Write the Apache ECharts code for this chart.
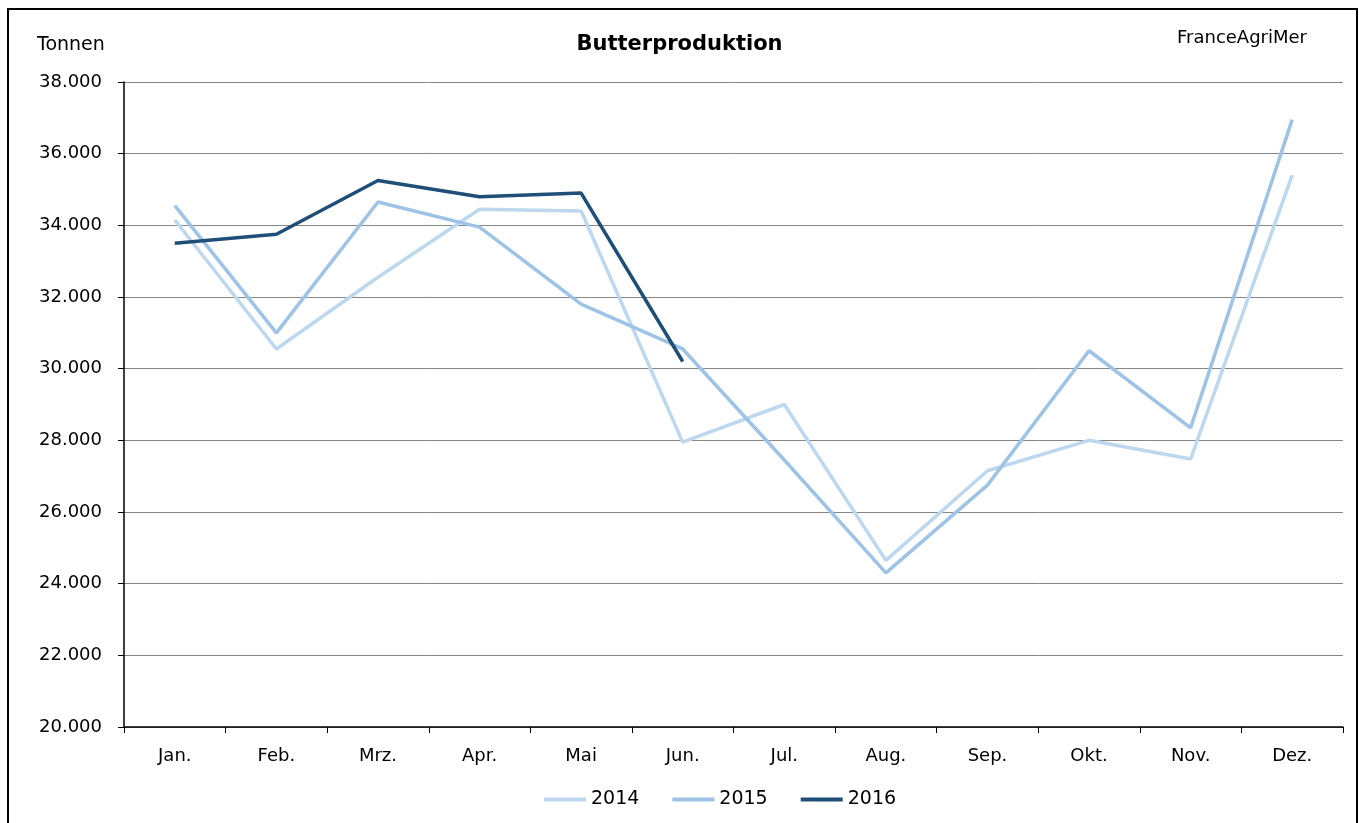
<!DOCTYPE html>
<html>
<head>
<meta charset="utf-8">
<script src="https://cdn.jsdelivr.net/npm/echarts@6/dist/echarts.min.js"></script>
<style>
  html, body { margin: 0; padding: 0; background: #fff; }
  #chart { width: 1359px; height: 823px; }
</style>
</head>
<body>
<div id="chart"></div>
<script>
const months = ['Jan.', 'Feb.', 'Mrz.', 'Apr.', 'Mai', 'Jun.', 'Jul.', 'Aug.', 'Sep.', 'Okt.', 'Nov.', 'Dez.']
const years = ['2014', '2015', '2016']
const prod2014 = [34150, 30550, 32550, 34450, 34400, 27950, 29000, 24650, 27150, 28000, 27480, 35400]
const prod2015 = [34550, 31000, 34650, 33950, 31800, 30550, 27450, 24300, 26750, 30500, 28350, 36950]
const prod2016 = [33500, 33750, 35250, 34800, 34900, 30200]
const lineColors = ['#bdd7ee', '#9dc3e6', '#1f4e79']

const font = '"DejaVu Sans", sans-serif'
const chart = echarts.init(document.getElementById('chart'))

// Tausenderpunkt wie im Original
const fmt = (v) => String(v).replace(/\B(?=(\d{3})+(?!\d))/g, '.')

const option = {
  backgroundColor: '#fff',
  animation: false,
  color: lineColors,
  textStyle: { fontFamily: font },
  title: {
    text: 'Butterproduktion',
    left: 'center',
    top: 29,
    textStyle: { fontSize: 21, fontWeight: 'bold', color: '#000', fontFamily: font },
  },
  graphic: [
    {
      type: 'rect',
      shape: { x: 8, y: 9, width: 1349, height: 840 },
      style: { fill: 'none', stroke: '#000', lineWidth: 2 },
      silent: true,
    },
    {
      type: 'text',
      left: 37,
      top: 36,
      style: { text: 'Tonnen', fontSize: 19, fill: '#000', fontFamily: font },
    },
    {
      type: 'text',
      left: 1177,
      top: 29,
      style: { text: 'FranceAgriMer', fontSize: 18, fill: '#000', fontFamily: font },
    },
  ],
  legend: {
    bottom: 9,
    left: 539,
    icon: 'rect',
    itemWidth: 42,
    itemHeight: 4,
    itemGap: 33,
    data: years,
    textStyle: { fontSize: 19, color: '#000', fontFamily: font },
  },
  grid: { left: 124, right: 16, top: 82, bottom: 96 },
  xAxis: {
    type: 'category',
    data: months,
    boundaryGap: true,
    axisLine: { lineStyle: { color: '#000', width: 1.5 } },
    axisTick: { show: true, length: 6, lineStyle: { color: '#000' } },
    axisLabel: { color: '#000', fontSize: 18, margin: 20, fontFamily: font },
  },
  yAxis: {
    type: 'value',
    min: 20000,
    max: 38000,
    interval: 2000,
    axisLine: { show: true, lineStyle: { color: '#000', width: 1.5 } },
    axisTick: { show: true, length: 6, lineStyle: { color: '#000' } },
    axisLabel: { color: '#000', fontSize: 18, margin: 22, fontFamily: font, formatter: fmt },
    splitLine: { show: true, lineStyle: { color: '#868686', width: 1 } },
  },
  series: [prod2014, prod2015, prod2016].map((data, i) => ({
    name: years[i],
    type: 'line',
    data: data,
    symbol: 'none',
    lineStyle: { width: 3.5, color: lineColors[i] },
    itemStyle: { color: lineColors[i] },
    z: 2 + i,
  })),
}

chart.setOption(option)
</script>
</body>
</html>
